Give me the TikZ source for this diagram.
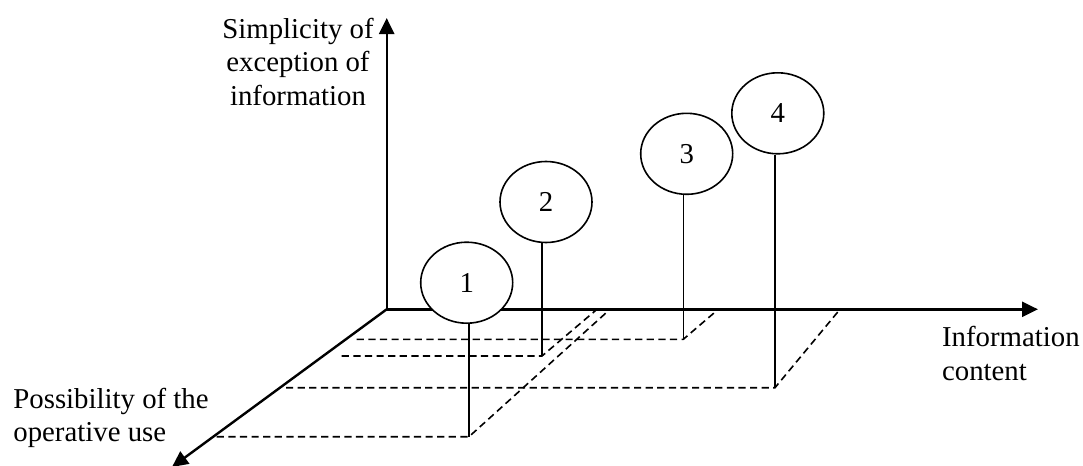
\documentclass[tikz,border=0pt]{standalone}
\usepackage{fontspec}
\setmainfont{Liberation Serif}
\usetikzlibrary{arrows.meta,shapes.geometric}
\begin{document}
\begin{tikzpicture}[x=0.5pt,y=-0.5pt,
  axis/.style={line width=1.2pt,-{Triangle[length=8pt,width=7.5pt]}},
  ball/.style={ellipse,draw,fill=white,line width=0.8pt,minimum width=46pt,minimum height=40.5pt,inner sep=0pt,font=\fontsize{14.4}{16.8}\selectfont},
  stem/.style={line width=0.8pt},
  guide/.style={line width=0.8pt,dash pattern=on 3.6pt off 2.2pt},
  lbl/.style={inner sep=0pt,font=\fontsize{14.4}{16.8}\selectfont}]
\useasboundingbox (0,0) rectangle (1083,466);
% axes
\coordinate (O) at (386.7,309.3);
\coordinate (ytip) at (386.7,18);
\coordinate (xtip) at (1038,309.3);
\coordinate (ztip) at (172,467);
\draw[line width=1.2pt,{Triangle[length=8pt,width=7.5pt]}-{Triangle[length=8pt,width=7.5pt]}] (ytip) -- (O) -- (xtip);
\draw[axis] (O) -- (ztip);
% points on the base plane
\coordinate (p1) at (469,436.7);
\coordinate (p2) at (542,356);
\coordinate (p3) at (683.3,339.3);
\coordinate (p4) at (775,387.7);
% left ends of the dashed guides
\coordinate (l1) at (216.7,436.7);
\coordinate (l2) at (341.7,356);
\coordinate (l3) at (356.7,339.3);
\coordinate (l4) at (286,387.7);
% ends on the horizontal axis
\coordinate (a1) at (610,309.3);
\coordinate (a2) at (597,309.3);
\coordinate (a3) at (718.3,309.3);
\coordinate (a4) at (840,309.3);
\foreach \i in {1,2,3,4}{
  \draw[guide] (l\i) -- (p\i) -- (a\i);
}
% balls
\node[ball] (c1) at (466.7,282.7) {1};
\node[ball] (c2) at (546,202) {2};
\node[ball] (c3) at (686.7,153.8) {3};
\node[ball] (c4) at (777.8,113.3) {4};
\foreach \i in {1,2,3,4}{
  \draw[stem] (p\i |- c\i.south) -- (p\i);
}
% labels
\node[lbl,align=center,anchor=north] (ly) at (298,17.5) {Simplicity of\\exception of\\information};
\node[lbl,align=left,anchor=north west] (lx) at (941.7,326) {Information\\content};
\node[lbl,align=left,anchor=north west] (lz) at (13,387.5) {Possibility of the\\operative use};
\end{tikzpicture}
\end{document}
